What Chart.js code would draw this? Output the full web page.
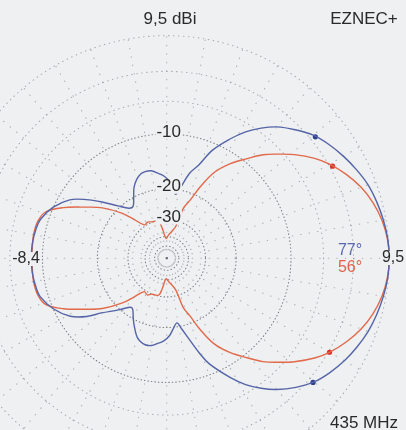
<!DOCTYPE html>
<html>
<head>
<meta charset="utf-8">
<script src="https://cdn.jsdelivr.net/npm/chart.js@4"></script>
<style>
  html, body { margin: 0; padding: 0; background: #eef0f1; overflow: hidden; }
  #wrap { position: relative; width: 406px; height: 430px; }
</style>
</head>
<body>
<div id="wrap"><canvas id="pattern" width="406" height="430"></canvas></div>
<script>
// azimuth pattern, gain in dBi, angle in degrees (0 = right, counter-clockwise)
var blueAngles = [-180, -174, -168, -163, -156, -149, -144, -140, -133, -127, -124, -119, -116, -111, -108, -104, -100, -96, -92, -88, -85, -81, -78, -75, -71, -68, -62, -58, -54, -50, -45, -40, -35, -30, -25, -20, -15, -10, -5,
                  0, 5, 10, 15, 20, 25, 30, 35, 40, 45, 50, 54, 58, 62, 67, 71, 75, 79, 82, 85, 88, 92, 95, 100, 104, 107, 111, 115, 119, 123, 127, 133, 139, 144, 149, 156, 163, 168, 174, 180];
var blueGain = [1.0, 0.95, 0.8, 0.55, -0.5, -2.2, -4.4, -7.0, -10.2, -12.6, -12.7, -10.6, -9.3, -7.3, -6.6, -6.2, -6.3, -6.9, -7.5, -8.6, -10.0, -11.5, -9.8, -7.6, -4.2, -2.0, 0.9, 2.6, 3.9, 5.0, 6.1, 7.0, 7.6, 8.1, 8.5, 8.85, 9.1, 9.3, 9.45,
                9.5, 9.45, 9.3, 9.1, 8.85, 8.45, 8.0, 7.5, 6.9, 6.0, 5.0, 3.9, 2.6, 0.9, -1.5, -4.5, -6.5, -10.0, -11.8, -10.2, -8.7, -7.6, -7.1, -6.3, -6.2, -6.4, -7.2, -8.6, -10.8, -12.5, -12.3, -10.0, -6.9, -4.3, -2.1, -0.45, 0.55, 0.8, 0.95, 1.0];

var redAngles = [-180, -176, -170, -164, -159, -154, -148, -142, -135, -130, -124, -118, -113, -108, -102, -98, -92, -85, -80, -74, -71.5, -68, -65, -61, -56, -51, -47, -43, -39, -34, -30, -25, -20, -15, -10, -5,
                 0, 5, 10, 15, 20, 25, 30, 34, 39, 43, 47, 51, 56, 61, 65, 68, 71.5, 74, 80, 85, 92, 98, 102, 108, 113, 118, 124, 130, 135, 142, 148, 154, 159, 164, 170, 176, 180];
var redGain = [0.9, 0.9, 0.95, 0.8, 0.2, -1.8, -4.9, -7.7, -12.0, -16.0, -19.8, -19.3, -20.4, -20.6, -21.0, -25.0, -31.3, -29.0, -27.0, -23.0, -15.4, -12.3, -8.5, -4.6, -2.0, 0.0, 1.7, 3.0, 4.3, 5.7, 6.6, 7.5, 8.25, 8.8, 9.19, 9.42,
               9.5, 9.42, 9.19, 8.8, 8.25, 7.5, 6.6, 5.7, 4.3, 3.0, 1.7, 0.0, -2.0, -4.6, -8.5, -12.3, -15.2, -23.0, -27.0, -29.0, -32.0, -25.5, -21.1, -20.5, -20.2, -19.6, -19.9, -16.0, -12.0, -7.7, -4.9, -1.8, 0.2, 0.8, 0.95, 0.9, 0.9];

// -3 dB markers
var blueMarkAngles = [39.2, -40.3];
var blueMarkGain = [6.95, 6.95];
var redMarkAngles = [29, -30];
var redMarkGain = [6.75, 6.6];

var maxGain = 9.5;
var ringDb = [0, -3, -6, -10, -20, -30, -40, -50];
var ringLabels = [-10, -20, -30];

// layout of the plot in the 406x430 picture
var CX = 166, CY = 259, OUTER = 227, W = 406, H = 430;
var BG = "#eef0f1";

// ARRL log scale: 0.89 per 2 dB
function arrl(dbDown) { return Math.pow(0.89, -dbDown / 2); }
function toXY(angles, gains) {
    return angles.map(function (a, i) {
        var r = arrl(gains[i] - maxGain), t = a * Math.PI / 180;
        return {x: r * Math.cos(t), y: r * Math.sin(t)};
    });
}

function boxedText(ctx, txt, x, y, color) {
    var w = ctx.measureText(txt).width;
    ctx.fillStyle = BG;
    ctx.fillRect(x - w / 2 - 1, y - 7, w + 2, 14);
    ctx.fillStyle = color;
    ctx.fillText(txt, x, y);
}

var polarGrid = {
    id: "polarGrid",
    beforeDatasetsDraw: function (chart) {
        var ctx = chart.ctx, xs = chart.scales.x, ys = chart.scales.y;
        var cx = xs.getPixelForValue(0), cy = ys.getPixelForValue(0);
        var unit = xs.getPixelForValue(1) - cx;
        ctx.save();
        ctx.lineCap = "round";
        // spokes
        ctx.strokeStyle = "rgba(110,115,125,0.5)";
        ctx.lineWidth = 1.1;
        ctx.setLineDash([0.5, 8]);
        for (var a = 0; a < 360; a += 10) {
            var t = a * Math.PI / 180;
            ctx.beginPath();
            ctx.moveTo(cx, cy);
            ctx.lineTo(cx + unit * Math.cos(t), cy - unit * Math.sin(t));
            ctx.stroke();
        }
        // rings
        ringDb.forEach(function (d) {
            ctx.strokeStyle = d >= -6 ? "rgba(110,115,125,0.55)" : "rgba(95,98,105,0.8)";
            ctx.setLineDash(d >= -6 ? [0.5, 4.5] : [0.5, 3]);
            ctx.beginPath();
            ctx.arc(cx, cy, unit * arrl(d), 0, Math.PI * 2);
            ctx.stroke();
        });
        ctx.restore();
    },
    afterDatasetsDraw: function (chart) {
        var ctx = chart.ctx, xs = chart.scales.x, ys = chart.scales.y;
        var cx = xs.getPixelForValue(0), cy = ys.getPixelForValue(0);
        var unit = xs.getPixelForValue(1) - cx;
        ctx.save();
        ctx.textAlign = "center";
        ctx.textBaseline = "middle";
        ctx.font = "17px 'Liberation Sans', Arial, sans-serif";
        ringLabels.forEach(function (d) {
            boxedText(ctx, String(d), cx + 2, cy - unit * arrl(d) - 2, "#2a2a2a");
        });
        ctx.fillStyle = "#2a2a2a";
        ctx.fillText("9,5 dBi", 170, 19);
        ctx.fillText("EZNEC+", 364, 19);
        ctx.fillText("435 MHz", 364, 423);
        ctx.font = "16px 'Liberation Sans', Arial, sans-serif";
        boxedText(ctx, "-8,4", 26, 259, "#2a2a2a");
        boxedText(ctx, "9,5", 393, 258, "#2a2a2a");
        ctx.fillStyle = "#5a69b0";
        ctx.fillText("77°", 350, 251);
        ctx.fillStyle = "#e0604c";
        ctx.fillText("56°", 350, 268);
        ctx.restore();
    }
};

var chart = new Chart(document.getElementById("pattern").getContext("2d"), {
    type: "scatter",
    data: {
        datasets: [
            {data: toXY(blueAngles, blueGain), showLine: true, borderColor: "#5564a8", borderWidth: 1.4, pointRadius: 0, tension: 0.35},
            {data: toXY(redAngles, redGain), showLine: true, borderColor: "#e2694a", borderWidth: 1.4, pointRadius: 0, tension: 0.35},
            {data: toXY(blueMarkAngles, blueMarkGain), pointRadius: 2.6, pointBackgroundColor: "#2f3f90", pointBorderWidth: 0},
            {data: toXY(redMarkAngles, redMarkGain), pointRadius: 2.6, pointBackgroundColor: "#d8302a", pointBorderWidth: 0}
        ]
    },
    options: {
        responsive: false,
        animation: false,
        layout: {padding: 0},
        plugins: {legend: {display: false}, tooltip: {enabled: false}},
        scales: {
            x: {display: false, min: -CX / OUTER, max: (W - CX) / OUTER},
            y: {display: false, min: -(H - CY) / OUTER, max: CY / OUTER}
        }
    },
    plugins: [polarGrid]
});
</script>
</body>
</html>
